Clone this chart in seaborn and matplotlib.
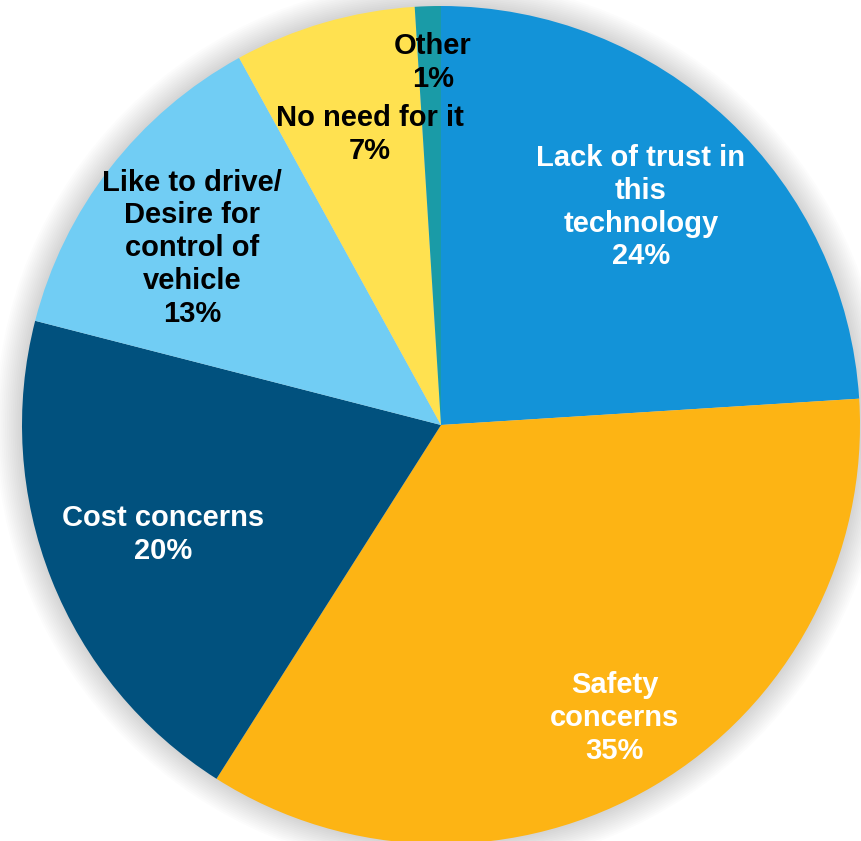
import matplotlib
matplotlib.use("Agg")
import matplotlib.pyplot as plt
from matplotlib.patches import Circle
import seaborn as sns

# Reasons for not wanting a self-driving vehicle (share of respondents)
categories = [
    "Lack of trust in\nthis\ntechnology",
    "Safety\nconcerns",
    "Cost concerns",
    "Like to drive/\nDesire for\ncontrol of\nvehicle",
    "No need for it",
    "Other",
]
shares = [24, 35, 20, 13, 7, 1]

slice_colors = ["#1393D8", "#FDB414", "#01517E", "#71CDF4", "#FFE150", "#1A9BA7"]
label_colors = ["white", "white", "white", "black", "black", "black"]
# label anchor points in pie units (centre = 0,0, radius = 1)
label_xy = [(0.477, 0.520), (0.415, -0.700), (-0.663, -0.262),
            (-0.594, 0.422), (-0.169, 0.694), (-0.019, 0.866)]

sns.set_theme(style="white")
plt.rcParams["font.family"] = ["Liberation Sans", "DejaVu Sans"]

W, H, DPI = 861, 841, 100
fig = plt.figure(figsize=(W / DPI, H / DPI), dpi=DPI)
ax = fig.add_axes([0, 0, 1, 1])

palette = sns.color_palette(slice_colors)
wedges, _ = ax.pie(
    shares,
    colors=palette,
    startangle=90,
    counterclock=False,
    radius=1.0,
    wedgeprops=dict(linewidth=0),
)

# soft glow around the pie
for i in range(14):
    r = 1.0 + 0.0045 * (i + 1)
    ax.add_patch(Circle((0, 0), r, facecolor="black", edgecolor="none",
                        alpha=0.012, zorder=0))

for text, (x, y), c in zip(
        [f"{cat}\n{v}%" for cat, v in zip(categories, shares)],
        label_xy, label_colors):
    ax.text(x, y, text, ha="center", va="center", color=c,
            fontsize=21, fontweight="bold", linespacing=1.22, zorder=5)

scale = 419.0
cx, cy = 441.0, 425.0
ax.set_xlim(-cx / scale, (W - cx) / scale)
ax.set_ylim(-(H - cy) / scale, cy / scale)
ax.set_aspect("equal", adjustable="box")
ax.axis("off")

fig.savefig("out.png", dpi=DPI, facecolor="white")
